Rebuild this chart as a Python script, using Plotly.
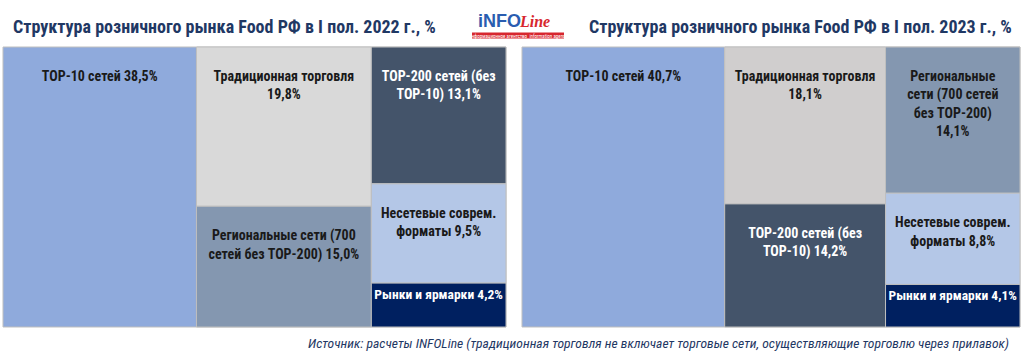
import plotly.graph_objects as go

# ---- data ----
ids_2022 = ["top10", "col2", "col3", "trad", "reg", "top200", "nonchain", "markets"]
parents_2022 = ["", "", "", "col2", "col2", "col3", "col3", "col3"]
values_2022 = [38.5, 0, 0, 19.8, 15.0, 13.1, 9.5, 4.2]
text_2022 = ["TOP-10 сетей 38,5%", "", "",
             "Традиционная торговля<br>19,8%",
             "Региональные сети (700<br>сетей без TOP-200) 15,0%",
             "TOP-200 сетей (без<br>TOP-10) 13,1%",
             "Несетевые соврем.<br>форматы 9,5%",
             "Рынки и ярмарки 4,2%"]
colors_2022 = ["#8FAADC", "rgba(0,0,0,0)", "rgba(0,0,0,0)", "#D9D9D9", "#8497B0",
               "#44546A", "#B4C7E7", "#002060"]
fontcol_2022 = ["#1a1a1a", "#1a1a1a", "#1a1a1a", "#1a1a1a", "#1a1a1a",
                "#ffffff", "#1a1a1a", "#ffffff"]

ids_2023 = ["top10", "col2", "col3", "trad", "top200", "reg", "nonchain", "markets"]
parents_2023 = ["", "", "", "col2", "col2", "col3", "col3", "col3"]
values_2023 = [40.7, 0, 0, 18.1, 14.2, 14.1, 8.8, 4.1]
text_2023 = ["TOP-10 сетей 40,7%", "", "",
             "Традиционная торговля<br>18,1%",
             "TOP-200 сетей (без<br>TOP-10) 14,2%",
             "Региональные<br>сети (700 сетей<br>без TOP-200)<br>14,1%",
             "Несетевые соврем.<br>форматы 8,8%",
             "Рынки и ярмарки 4,1%"]
colors_2023 = ["#8FAADC", "rgba(0,0,0,0)", "rgba(0,0,0,0)", "#D0CECE", "#44546A",
               "#8497B0", "#B4C7E7", "#002060"]
fontcol_2023 = ["#1a1a1a", "#1a1a1a", "#1a1a1a", "#1a1a1a", "#ffffff",
                "#1a1a1a", "#1a1a1a", "#ffffff"]
# nodes whose label gets a spacer line on top (small boxes keep it off)
spacer_2022 = [True, False, False, True, True, True, True, False]
spacer_2023 = [True, False, False, True, True, True, True, False]

title_2022 = "Структура розничного рынка Food РФ в I пол. 2022 г., %"
title_2023 = "Структура розничного рынка Food РФ в I пол. 2023 г., %"
source_text = ("Источник: расчеты INFOLine (традиционная торговля не включает торговые сети, "
               "осуществляющие торговлю через прилавок)")

FONT = "Liberation Sans Narrow, Roboto Condensed, Arial Narrow, Roboto, sans-serif"
W, H = 1024, 363


def px_x(x):
    return x / W


def px_y(y):
    return 1 - y / H


def make_tm(ids, parents, values, text, colors, fcols, spacer, x0, x1):
    shown = [("\u00a0<br>" + t if s else t) if t else "" for t, s in zip(text, spacer)]
    return go.Treemap(
        ids=ids, parents=parents, values=values, labels=ids,
        branchvalues="remainder", sort=True,
        text=shown, texttemplate="<b>%{text}</b>", textposition="top center",
        textfont=dict(family=FONT, size=14, color=fcols),
        marker=dict(colors=colors, line=dict(width=1, color="#BFBFBF"),
                    pad=dict(t=0, l=0, r=0, b=0)),
        tiling=dict(packing="slice-dice", pad=0),
        pathbar=dict(visible=False),
        hoverinfo="skip",
        domain=dict(x=[px_x(x0), px_x(x1)], y=[px_y(327), px_y(47)]),
    )


fig = go.Figure()
fig.add_trace(make_tm(ids_2022, parents_2022, values_2022, text_2022, colors_2022,
                      fontcol_2022, spacer_2022, 3, 506))
fig.add_trace(make_tm(ids_2023, parents_2023, values_2023, text_2023, colors_2023,
                      fontcol_2023, spacer_2023, 522, 1020))

annotations = [
    dict(text="<b>" + title_2022 + "</b>", x=px_x(11), y=px_y(26), xref="paper", yref="paper",
         xanchor="left", yanchor="middle", showarrow=False,
         font=dict(family=FONT, size=18, color="#1F3864")),
    dict(text="<b>" + title_2023 + "</b>", x=px_x(1014), y=px_y(26), xref="paper", yref="paper",
         xanchor="right", yanchor="middle", showarrow=False,
         font=dict(family=FONT, size=18, color="#1F3864")),
    dict(text="<i>" + source_text + "</i>", x=px_x(1011), y=px_y(343), xref="paper", yref="paper",
         xanchor="right", yanchor="middle", showarrow=False,
         font=dict(family=FONT, size=13.6, color="#1F3864")),
    # logo
    dict(text="<b>iNFO</b>", x=px_x(476), y=px_y(21), xref="paper", yref="paper",
         xanchor="left", yanchor="middle", showarrow=False,
         font=dict(family="Liberation Sans, Arial, sans-serif", size=18, color="#2A5DB0")),
    dict(text="<b><i>Line</i></b>", x=px_x(517), y=px_y(22), xref="paper", yref="paper",
         xanchor="left", yanchor="middle", showarrow=False,
         font=dict(family="Liberation Serif, serif", size=16, color="#D7262E")),
    dict(text="информационное агентство  information agency", x=px_x(518), y=px_y(35.5),
         xref="paper", yref="paper", xanchor="center", yanchor="middle", showarrow=False,
         font=dict(family=FONT, size=5, color="#ffffff")),
]

shapes = [
    dict(type="rect", xref="paper", yref="paper", x0=px_x(472), x1=px_x(564),
         y0=px_y(38.5), y1=px_y(32.5), fillcolor="#D7262E", line=dict(width=0)),
]

fig.update_layout(
    width=W, height=H, margin=dict(l=0, r=0, t=0, b=0),
    paper_bgcolor="#ffffff", plot_bgcolor="#ffffff",
    annotations=annotations, shapes=shapes, showlegend=False,
)

fig.write_html(
    "out.html",
    config={"displayModeBar": False},
    post_script="document.body.style.margin='0';document.body.style.overflow='hidden';",
)
